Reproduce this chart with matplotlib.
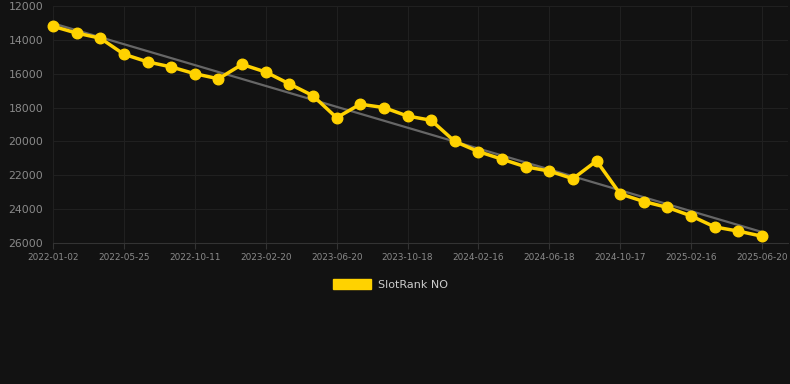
import matplotlib
matplotlib.use("Agg")
import matplotlib.pyplot as plt
from matplotlib.patches import Patch
import numpy as np

tick_labels = ["2022-01-02", "2022-05-25", "2022-10-11", "2023-02-20", "2023-06-20",
               "2023-10-18", "2024-02-16", "2024-06-18", "2024-10-17", "2025-02-16", "2025-06-20"]
rank_values = [13200, 13600, 13900, 14850, 15300, 15600, 16000, 16300, 15450, 15900,
               16600, 17300, 18600, 17800, 18000, 18500, 18750, 20000, 20600, 21050,
               21500, 21750, 22200, 21150, 23100, 23550, 23900, 24400, 25050, 25300, 25600]
series_name = "SlotRank NO"

bg = "#121212"
yellow = "#FFD200"
fig = plt.figure(figsize=(7.9, 3.84), dpi=100, facecolor=bg)
ax = fig.add_axes([53/790, (384-243)/384, (788-53)/790, (243-6)/384], facecolor=bg)

x = np.arange(len(rank_values))
y = np.array(rank_values, dtype=float)
coef = np.polyfit(x, y, 1)
ax.plot(x, np.polyval(coef, x), color="#666666", lw=1.6, zorder=2)
ax.plot(x, y, color=yellow, lw=2.5, marker="o", markersize=7.6, zorder=3,
        label=series_name, clip_on=False)

ax.set_ylim(26000, 12000)
ax.set_yticks(range(12000, 26001, 2000))
ax.set_xlim(0, (788-53)/((762-53)/30))
ax.set_xticks(x[::3])
ax.set_xticklabels(tick_labels)

for s in ["top", "right", "left"]:
    ax.spines[s].set_visible(False)
ax.spines["bottom"].set_color("#333333")
ax.grid(True, color="#202020", lw=0.8, zorder=0)
ax.set_axisbelow(True)
ax.tick_params(axis="y", length=0, colors="#8a8a8a", labelsize=7.8, pad=7)
ax.tick_params(axis="x", length=4, color="#333333", colors="#8a8a8a", labelsize=6.4, pad=3)

handle = Patch(facecolor=yellow, edgecolor=yellow)
fig.legend([handle], [series_name], loc="center", bbox_to_anchor=(390/790, 1-284.5/384),
           frameon=False, handlelength=3.5, handleheight=0.95, handletextpad=0.55,
           fontsize=8.0, labelcolor="#cccccc")

fig.savefig("out.png", dpi=100, facecolor=bg)
